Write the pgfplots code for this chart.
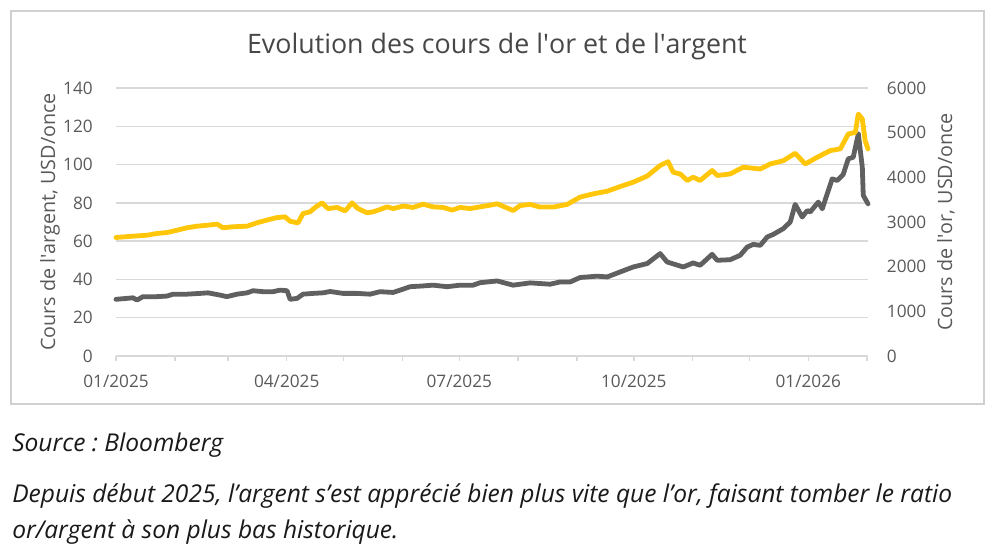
\documentclass[border=0pt]{standalone}
\usepackage{fontspec}
\setmainfont{Open Sans}
\usepackage{pgfplots}
\pgfplotsset{compat=1.18}
\usepackage{pgfplotstable}
\definecolor{goldc}{HTML}{FFC60A}
\definecolor{silverc}{HTML}{606060}
\definecolor{gridc}{HTML}{D9D9D9}
\definecolor{txtc}{HTML}{595959}
\definecolor{titlec}{HTML}{474747}
\definecolor{framec}{HTML}{D0D0D0}
\frenchspacing

\pgfplotstableread{
day silver
0 29.6
9.0 30.4
11.1 29.2
14.2 31.0
21.6 31.0
26.9 31.3
30.1 32.3
37.4 32.3
44.3 32.7
48.5 33.0
54.9 31.8
58.5 31.0
63.8 32.3
69.1 33.0
72.3 34.1
77.5 33.6
82.8 33.6
86.5 34.4
90.2 34.1
91.8 29.6
95.5 30.1
98.6 32.3
103.9 32.7
109.2 33.0
112.9 33.7
119.7 32.7
127.1 32.7
134.0 32.3
139.2 33.6
146.1 33.2
149.8 34.4
155.1 36.2
160.3 36.5
167.2 37.0
174.6 36.2
181.4 37.0
188.3 37.0
192.0 38.3
201.0 39.2
209.4 37.0
218.4 38.2
228.9 37.5
234.2 38.7
239.5 38.7
244.7 41.0
253.7 41.7
259.0 41.3
265.8 43.9
272.7 46.5
280.1 48.3
286.9 53.5
290.6 49.1
299.1 46.5
304.3 48.6
308.0 47.4
314.3 53.1
317.0 50.0
323.8 50.3
329.1 52.6
332.8 56.9
336.0 58.3
339.7 57.8
343.4 62.2
346.5 63.5
351.8 66.5
355.5 70.0
358.1 79.2
361.8 72.6
364.5 76.0
366.0 75.2
370.3 80.4
372.4 76.9
377.6 92.5
380.3 91.7
383.4 94.8
386.1 103.0
388.7 103.8
391.4 116.0
393.5 98.6
394.0 83.9
396.5 79.5
}\silvertable

\pgfplotstableread{
day gold
0 2653
9.0 2683
16.4 2704
21.6 2743
26.9 2764
32.2 2816
37.4 2871
42.7 2906
48.0 2927
53.3 2953
56.4 2871
61.7 2893
69.1 2906
74.4 2983
79.6 3043
84.9 3099
89.1 3116
91.8 3017
96.0 2979
98.6 3189
102.3 3227
105.0 3326
108.6 3429
111.8 3300
116.6 3326
120.8 3249
124.5 3429
127.6 3300
132.4 3206
135.5 3227
139.2 3279
142.9 3339
146.1 3300
151.4 3356
156.6 3326
161.9 3399
167.2 3339
172.5 3326
177.2 3266
181.4 3326
186.7 3300
192.0 3339
197.3 3377
201.0 3407
209.4 3257
213.1 3369
218.4 3394
223.6 3334
230.5 3334
237.9 3394
244.7 3557
251.6 3630
259.0 3690
265.8 3793
272.7 3891
280.1 4029
286.9 4264
291.1 4350
293.8 4114
297.5 4076
301.2 3930
304.3 4003
308.0 3930
314.3 4153
317.0 4041
323.8 4076
330.7 4226
339.7 4187
344.9 4299
351.8 4371
358.1 4539
363.4 4299
369.7 4449
376.6 4599
381.9 4637
386.1 4971
389.8 5006
391.4 5417
393.5 5306
395.0 4821
396.5 4637
}\goldtable

\begin{document}
\begin{tikzpicture}
\path (0pt,0pt) rectangle (750pt,-416.25pt);
\draw[framec, line width=1pt] (8.25pt,-8.25pt) rectangle (738pt,-303pt);
\node[anchor=base, text=titlec, font=\fontsize{20.1pt}{24pt}\selectfont, inner sep=0pt] at (372.75pt,-40pt) {Evolution des cours de l\textquotesingle or et de l\textquotesingle argent};

\begin{axis}[
  at={(87pt,-267pt)}, anchor=south west,
  scale only axis, width=564pt, height=201pt,
  xmin=0, xmax=396.5, ymin=0, ymax=140,
  ytick={0,20,...,140},
  xtick={0,31,59,90,120,151,181,212,243,273,304,334,365,396},
  xticklabels={01/2025,,,04/2025,,,07/2025,,,10/2025,,,01/2026,},
  axis x line*=bottom, axis y line*=left,
  x axis line style={draw=gridc, line width=1.1pt, -},
  y axis line style={draw=none},
  ymajorgrids, major grid style={draw=gridc, line width=1.1pt},
  xtick style={draw=gridc, line width=1.1pt},
  ytick style={draw=none},
  tick align=outside, major tick length=3.75pt,
  ticklabel style={text=txtc, font=\fontsize{12.9pt}{15pt}\selectfont, inner sep=0pt},
  yticklabel style={anchor=east, xshift=-13.5pt},
  xticklabel style={anchor=north, yshift=-10.5pt},
  /pgf/number format/assume math mode=true,
  ylabel={Cours de l\textquotesingle argent, USD/once},
  every axis y label/.style={at={(rel axis cs:-0.0878,0.5)}, anchor=center, rotate=90, text=txtc, font=\fontsize{14.8pt}{17pt}\selectfont, inner sep=0pt},
  clip=false,
]
\addplot[silverc, line width=3.6pt, line join=round, line cap=round] table[x=day, y=silver] {\silvertable};
\end{axis}

\begin{axis}[
  at={(87pt,-267pt)}, anchor=south west,
  scale only axis, width=564pt, height=201pt,
  xmin=0, xmax=396.5, ymin=0, ymax=6000,
  ytick={0,1000,...,6000},
  axis y line*=right, axis x line=none,
  y axis line style={draw=none},
  ytick style={draw=none},
  ticklabel style={text=txtc, font=\fontsize{12.9pt}{15pt}\selectfont, inner sep=0pt},
  yticklabel style={anchor=west, xshift=14pt},
  /pgf/number format/assume math mode=true,
  /pgf/number format/1000 sep={},
  ylabel={Cours de l\textquotesingle or, USD/once},
  every axis y label/.style={at={(rel axis cs:1.1037,0.5)}, anchor=center, rotate=90, text=txtc, font=\fontsize{14.8pt}{17pt}\selectfont, inner sep=0pt},
  clip=false,
]
\addplot[goldc, line width=3.6pt, line join=round, line cap=round] table[x=day, y=gold] {\goldtable};
\end{axis}

\node[anchor=base west, inner sep=0pt, text=black!90, font=\fontsize{18.4pt}{21pt}\selectfont\itshape] at (9pt,-339pt) {Source : Bloomberg};
\node[anchor=base west, inner sep=0pt, text=black!90, font=\fontsize{18.4pt}{21pt}\selectfont\itshape] at (9pt,-377.25pt) {Depuis début 2025, l’argent s’est apprécié bien plus vite que l’or, faisant tomber le ratio};
\node[anchor=base west, inner sep=0pt, text=black!90, font=\fontsize{18.4pt}{21pt}\selectfont\itshape] at (9pt,-404.25pt) {or/argent à son plus bas historique.};
\end{tikzpicture}
\end{document}
